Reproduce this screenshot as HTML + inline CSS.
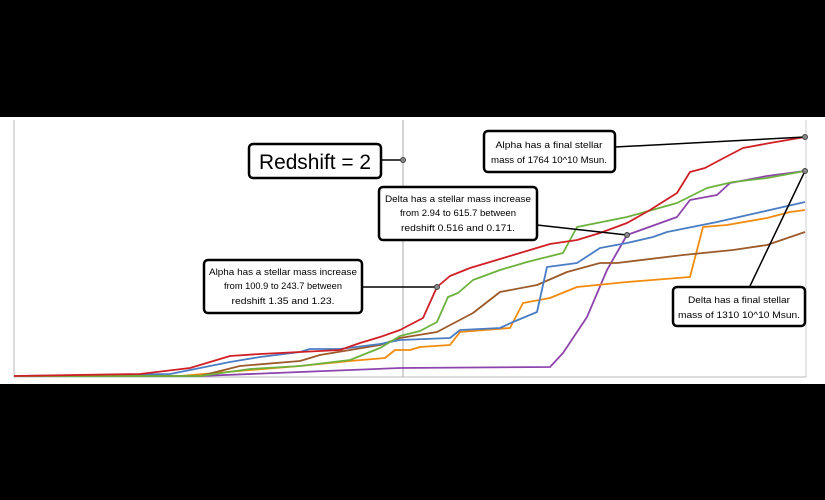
<!DOCTYPE html>
<html><head><style>
body{margin:0;width:825px;height:500px;background:#000;overflow:hidden;font-family:"Liberation Sans",sans-serif}
</style></head><body>
<svg width="825" height="500" style="position:absolute;left:0;top:0">
<rect x="0" y="117" width="825" height="267" fill="#fff"/>
<line x1="14" y1="120" x2="14" y2="377" stroke="#bbb"/>
<line x1="403" y1="120" x2="403" y2="377" stroke="#aaa"/>
<line x1="806" y1="120" x2="806" y2="377" stroke="#ccc"/>
<line x1="14" y1="377" x2="806" y2="377" stroke="#bbb"/>
<g fill="none" stroke-width="1.8" stroke-linejoin="round">
<polyline stroke="#8e44ad" points="14,376 200,376 300,372 400,368 550,367 563,353 587,317 607,270 627,235 677,217 690,200 717,195 730,183 767,176 805,171"/>
<polyline stroke="#f28b0c" points="14,376 180,376 250,370 300,366 350,361 385,358 395,350 410,350 420,347 450,345 460,332 510,328 523,303 550,298 577,287 627,282 690,277 703,227 727,225 767,218 790,212 805,210"/>
<polyline stroke="#9c5a2a" points="14,376 200,376 240,366 300,361 320,355 350,350 380,345 400,338 437,332 473,313 500,292 537,285 567,272 600,263 617,263 683,255 733,250 767,245 805,232"/>
<polyline stroke="#4a7dc4" points="14,376 170,374 230,362 260,357 300,352 310,349 340,349 380,344 400,340 450,338 460,330 500,328 513,322 537,312 547,267 577,263 600,248 627,243 653,237 667,232 717,222 805,202"/>
<polyline stroke="#6cb23c" points="14,376 200,376 250,369 300,366 350,360 380,348 400,336 420,331 437,322 448,297 458,293 473,280 500,270 527,262 563,253 577,227 627,217 677,203 707,188 733,182 767,178 805,171"/>
<polyline stroke="#d11f26" points="14,376 140,374 190,368 230,356 260,354 300,352 340,350 360,343 380,337 400,330 423,318 437,287 450,276 470,268 490,262 510,256 530,250 550,244 577,240 600,233 627,223 650,210 677,193 690,172 705,168 720,160 743,148 770,143 805,137"/>
</g>
<g stroke="#000" stroke-width="1.5" fill="none">
<line x1="381" y1="160" x2="403" y2="160"/>
<line x1="537" y1="225" x2="627" y2="235"/>
<line x1="362" y1="287" x2="437" y2="287"/>
<line x1="615" y1="147" x2="805" y2="137"/>
<line x1="750" y1="286" x2="805" y2="171"/>
</g>
<g fill="#888" stroke="#444">
<circle cx="403" cy="160" r="2.5"/><circle cx="627" cy="235" r="2.5"/><circle cx="437" cy="287" r="2.5"/><circle cx="805" cy="137" r="2.5"/><circle cx="805" cy="171" r="2.5"/>
</g>
<g fill="#fff" stroke="#000" stroke-width="2.5">
<rect x="249" y="144" width="132" height="34" rx="4"/>
<rect x="379" y="187" width="158" height="53" rx="4"/>
<rect x="204" y="260" width="158" height="53" rx="4"/>
<rect x="484" y="131" width="131" height="41" rx="4"/>
<rect x="673" y="287" width="132" height="39" rx="4"/>
</g>
<g text-anchor="middle" fill="#000" font-size="9.5" lengthAdjust="spacingAndGlyphs">
<text x="315" y="169" font-size="21" textLength="112" lengthAdjust="spacingAndGlyphs">Redshift = 2</text>
<text x="458" y="202" textLength="146" lengthAdjust="spacingAndGlyphs">Delta has a stellar mass increase</text>
<text x="458" y="216" textLength="116" lengthAdjust="spacingAndGlyphs">from 2.94 to 615.7 between</text>
<text x="458" y="231" textLength="114" lengthAdjust="spacingAndGlyphs">redshift 0.516 and 0.171.</text>
<text x="283" y="275" textLength="148" lengthAdjust="spacingAndGlyphs">Alpha has a stellar mass increase</text>
<text x="283" y="289" textLength="118" lengthAdjust="spacingAndGlyphs">from 100.9 to 243.7 between</text>
<text x="283" y="304" textLength="103" lengthAdjust="spacingAndGlyphs">redshift 1.35 and 1.23.</text>
<text x="549" y="148" textLength="107" lengthAdjust="spacingAndGlyphs">Alpha has a final stellar</text>
<text x="549" y="163" textLength="116" lengthAdjust="spacingAndGlyphs">mass of 1764 10^10 Msun.</text>
<text x="739" y="303" textLength="102" lengthAdjust="spacingAndGlyphs">Delta has a final stellar</text>
<text x="739" y="318" textLength="122" lengthAdjust="spacingAndGlyphs">mass of 1310 10^10 Msun.</text>
</g>
</svg>
</body></html>
